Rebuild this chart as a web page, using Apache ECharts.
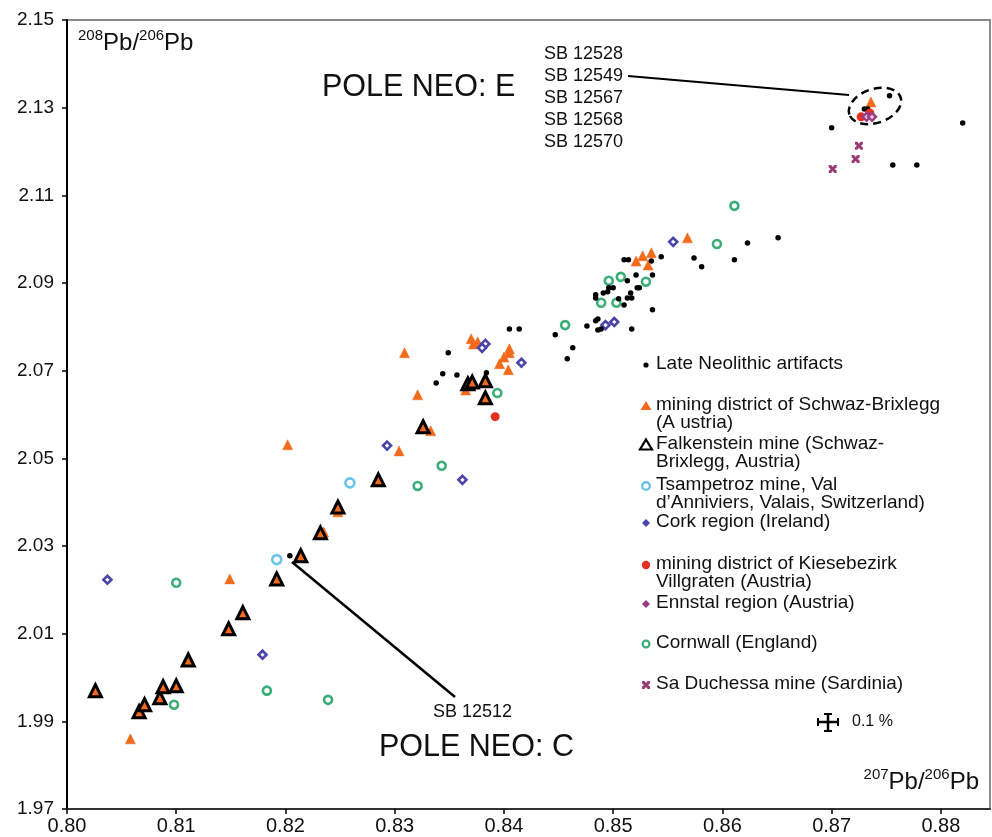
<!DOCTYPE html>
<html>
<head>
<meta charset="utf-8">
<script src="https://cdn.jsdelivr.net/npm/echarts@6/dist/echarts.min.js"></script>
<style>
html,body{margin:0;padding:0;background:#fff;}
#chart{width:992px;height:837px;}
</style>
</head>
<body>
<div id="chart"></div>
<script>
// ---- Data (x = 207Pb/206Pb, y = 208Pb/206Pb) ----
const xTicks = [0.80, 0.81, 0.82, 0.83, 0.84, 0.85, 0.86, 0.87, 0.88];
const yTicks = [1.97, 1.99, 2.01, 2.03, 2.05, 2.07, 2.09, 2.11, 2.13, 2.15];

const seriesNames = [
  "Late Neolithic artifacts",
  "mining district of Schwaz-Brixlegg\n(A ustria)",
  "Falkenstein mine (Schwaz-\nBrixlegg, Austria)",
  "Tsampetroz mine, Val\nd\u2019Anniviers, Valais, Switzerland)",
  "Cork region (Ireland)",
  "mining district of Kiesebezirk\nVillgraten (Austria)",
  "Ennstal region (Austria)",
  "Cornwall (England)",
  "Sa Duchessa mine (Sardinia)"
];

const neolithic = [
  [0.8204,2.0278],[0.8338,2.0672],[0.8344,2.0693],[0.8357,2.0690],[0.8349,2.0741],[0.8384,2.0695],
  [0.8405,2.0795],[0.8414,2.0795],[0.8447,2.0782],[0.8463,2.0752],[0.8458,2.0727],[0.8476,2.0802],
  [0.8484,2.0814],[0.8486,2.0818],[0.8486,2.0793],[0.8489,2.0795],[0.8517,2.0795],[0.8484,2.0873],
  [0.8484,2.0866],[0.8491,2.0877],[0.8495,2.0880],[0.8496,2.0889],[0.8500,2.0889],[0.8505,2.0864],
  [0.8510,2.0850],[0.8513,2.0866],[0.8516,2.0877],[0.8517,2.0866],[0.8522,2.0889],[0.8524,2.0889],
  [0.8536,2.0839],[0.8510,2.0953],[0.8514,2.0953],[0.8535,2.0950],[0.8521,2.0918],[0.8536,2.0918],
  [0.8513,2.0905],[0.8544,2.0960],[0.8574,2.0957],[0.8581,2.0937],[0.8611,2.0953],[0.8623,2.0991],
  [0.8651,2.1003],[0.8700,2.1254],[0.8730,2.1297],[0.8733,2.1297],[0.8753,2.1327],[0.8820,2.1265],
  [0.8756,2.1169],[0.8778,2.1169]
];
const schwaz = [
  [0.8058,1.9860],[0.8149,2.0225],[0.8202,2.0531],[0.8235,2.0332],[0.8248,2.0378],[0.8304,2.0517],
  [0.8309,2.0741],[0.8321,2.0645],[0.8333,2.0563],[0.8365,2.0656],[0.8370,2.0773],[0.8372,2.0761],
  [0.8376,2.0766],[0.8405,2.0750],[0.8405,2.0741],[0.8400,2.0731],[0.8396,2.0716],[0.8404,2.0702],
  [0.8521,2.0950],[0.8527,2.0962],[0.8535,2.0969],[0.8532,2.0941],[0.8568,2.1003],[0.8736,2.1313]
];
const falkenstein = [
  [0.8026,1.9970],[0.8066,1.9922],[0.8071,1.9938],[0.8085,1.9954],[0.8088,1.9979],[0.8100,1.9981],
  [0.8111,2.0040],[0.8148,2.0111],[0.8161,2.0148],[0.8192,2.0225],[0.8214,2.0278],[0.8232,2.0330],
  [0.8248,2.0389],[0.8285,2.0451],[0.8326,2.0572],[0.8367,2.0670],[0.8371,2.0674],[0.8383,2.0677],
  [0.8383,2.0638]
];
const tsampetroz = [[0.8192,2.0269],[0.8259,2.0444]];
const cork = [
  [0.8037,2.0223],[0.8179,2.0052],[0.8293,2.0529],[0.8362,2.0451],[0.8416,2.0718],[0.8383,2.0761],
  [0.8380,2.0752],[0.8493,2.0804],[0.8501,2.0811],[0.8555,2.0994]
];
const kiesebezirk = [[0.8392,2.0595],[0.8727,2.1279],[0.8735,2.1288]];
const ennstal = [[0.8732,2.1279],[0.8737,2.1279]];
const cornwall = [
  [0.8098,1.9938],[0.8100,2.0216],[0.8183,1.9970],[0.8239,1.9949],[0.8321,2.0437],[0.8343,2.0483],
  [0.8394,2.0649],[0.8456,2.0804],[0.8489,2.0855],[0.8503,2.0855],[0.8496,2.0905],[0.8507,2.0914],
  [0.8530,2.0903],[0.8595,2.0989],[0.8611,2.1076]
];
const saDuchessa = [[0.8725,2.1213],[0.8722,2.1183],[0.8701,2.1160]];

const clusterLabels = ["SB 12528", "SB 12549", "SB 12567", "SB 12568", "SB 12570"];

// ---- Styles ----
const FONT = "'Liberation Sans', Arial, Helvetica, sans-serif";
const C = {
  black: '#000000',
  orange: '#F26A1B',
  blueLt: '#6CC4EA',
  cork: '#4A45A8',
  red: '#E2321F',
  ennstal: '#9B3B80',
  green: '#3DAE78',
  sard: '#9B3B74'
};
const XPATH = 'path://M0,0 L3,0 L5,2.5 L7,0 L10,0 L10,3 L7.5,5 L10,7 L10,10 L7,10 L5,7.5 L3,10 L0,10 L0,7 L2.5,5 L0,3 Z';
const XPTS = [[0,0],[3,0],[5,2.5],[7,0],[10,0],[10,3],[7.5,5],[10,7],[10,10],[7,10],[5,7.5],[3,10],[0,10],[0,7],[2.5,5],[0,3]];

const chart = echarts.init(document.getElementById('chart'), null, {renderer: 'canvas'});

const series = [
  {name: seriesNames[1], data: schwaz, symbol: 'triangle', symbolSize: 10,
   itemStyle: {color: C.orange, borderColor: C.orange, borderWidth: 0.5}},
  {name: seriesNames[2], data: falkenstein, symbol: 'triangle', symbolSize: 12,
   itemStyle: {color: C.orange, borderColor: C.black, borderWidth: 3}},
  {name: seriesNames[3], data: tsampetroz, symbol: 'circle', symbolSize: 9,
   itemStyle: {color: '#fff', borderColor: C.blueLt, borderWidth: 2.6}},
  {name: seriesNames[4], data: cork, symbol: 'diamond', symbolSize: 8,
   itemStyle: {color: '#fff', borderColor: C.cork, borderWidth: 2.6}},
  {name: seriesNames[7], data: cornwall, symbol: 'circle', symbolSize: 8,
   itemStyle: {color: '#fff', borderColor: C.green, borderWidth: 2.6}},
  {name: seriesNames[0], data: neolithic, symbol: 'circle', symbolSize: 5.5,
   itemStyle: {color: C.black}},
  {name: seriesNames[5], data: kiesebezirk, symbol: 'circle', symbolSize: 9,
   itemStyle: {color: C.red}},
  {name: seriesNames[6], data: ennstal, symbol: 'diamond', symbolSize: 8,
   itemStyle: {color: '#E8C8E0', borderColor: C.ennstal, borderWidth: 2.4}},
  {name: seriesNames[8], data: saDuchessa, symbol: XPATH, symbolSize: 8,
   itemStyle: {color: C.sard}}
].map(s => {
  s.itemStyle.opacity = 1;
  return Object.assign({type: 'scatter', silent: true, emphasis: {disabled: true}}, s);
});

// ---- Legend drawn as graphic (icons aligned to first text line) ----
const legendX = 656, iconX = 646;
const legendRows = [
  {y: 364, icon: 'dot'},
  {y: 405, icon: 'tri'},
  {y: 444, icon: 'falk'},
  {y: 485, icon: 'tsam'},
  {y: 522, icon: 'cork'},
  {y: 564, icon: 'red'},
  {y: 603, icon: 'enn'},
  {y: 643, icon: 'corn'},
  {y: 684, icon: 'x'}
];
function iconEl(kind, cx, cy) {
  switch (kind) {
    case 'dot': return {type: 'circle', shape: {cx, cy, r: 2.6}, style: {fill: C.black}};
    case 'tri': return {type: 'polygon', shape: {points: [[cx, cy-5],[cx+5.5, cy+4],[cx-5.5, cy+4]]}, style: {fill: C.orange}};
    case 'falk': return {type: 'polygon', shape: {points: [[cx, cy-5.5],[cx+6, cy+4.5],[cx-6, cy+4.5]]}, style: {fill: '#fff', stroke: C.black, lineWidth: 2.2}};
    case 'tsam': return {type: 'circle', shape: {cx, cy, r: 3.8}, style: {fill: '#fff', stroke: C.blueLt, lineWidth: 2.4}};
    case 'cork': return {type: 'polygon', shape: {points: [[cx, cy-4],[cx+4, cy],[cx, cy+4],[cx-4, cy]]}, style: {fill: C.cork}};
    case 'red': return {type: 'circle', shape: {cx, cy, r: 4.2}, style: {fill: C.red}};
    case 'enn': return {type: 'polygon', shape: {points: [[cx, cy-4],[cx+4, cy],[cx, cy+4],[cx-4, cy]]}, style: {fill: C.ennstal}};
    case 'corn': return {type: 'circle', shape: {cx, cy, r: 3.4}, style: {fill: '#fff', stroke: C.green, lineWidth: 2.2}};
    case 'x': return {type: 'polygon', shape: {points: XPTS.map(p => [cx - 4 + p[0] * 0.8, cy - 4 + p[1] * 0.8])}, style: {fill: C.sard}};
  }
}
function txt(text, x, y, size, extra) {
  return {type: 'text', z: 100, x: x, y: y,
    style: Object.assign({text: text, fontSize: size, fontFamily: FONT, fill: '#111', verticalAlign: 'middle', align: 'left'}, extra || {})};
}
const graphics = [];
legendRows.forEach((r, i) => {
  graphics.push(Object.assign({z: 100}, iconEl(r.icon, iconX, r.y + 1)));
  graphics.push(txt(seriesNames[i], legendX, r.y - 9, 19, {verticalAlign: 'top', lineHeight: 18}));
});

// error bar symbol "0.1 %"
graphics.push(
  {type: 'line', z: 100, shape: {x1: 818, y1: 722, x2: 838, y2: 722}, style: {stroke: '#000', lineWidth: 2.5}},
  {type: 'line', z: 100, shape: {x1: 828, y1: 714, x2: 828, y2: 731}, style: {stroke: '#000', lineWidth: 2.5}},
  {type: 'line', z: 100, shape: {x1: 818, y1: 718, x2: 818, y2: 726}, style: {stroke: '#000', lineWidth: 2}},
  {type: 'line', z: 100, shape: {x1: 838, y1: 718, x2: 838, y2: 726}, style: {stroke: '#000', lineWidth: 2}},
  {type: 'line', z: 100, shape: {x1: 824, y1: 714, x2: 832, y2: 714}, style: {stroke: '#000', lineWidth: 2}},
  {type: 'line', z: 100, shape: {x1: 824, y1: 731, x2: 832, y2: 731}, style: {stroke: '#000', lineWidth: 2}},
  txt('0.1 %', 852, 722, 16)
);

// axis titles with superscripts
const supRich = {
  s: {fontSize: 15, fontFamily: FONT, verticalAlign: 'top', lineHeight: 27, fill: '#111'},
  m: {fontSize: 24, fontFamily: FONT, verticalAlign: 'bottom', lineHeight: 27, fill: '#111'}
};
graphics.push(txt('{s|208}{m|Pb/}{s|206}{m|Pb}', 78, 42, 24, {rich: supRich}));
graphics.push(txt('{s|207}{m|Pb/}{s|206}{m|Pb}', 979, 781, 24, {rich: supRich, align: 'right'}));

// pole labels
graphics.push(
  txt('POLE NEO: E', 322, 88, 30.5),
  txt('POLE NEO: C', 379, 748, 30.5)
);
// cluster sample labels
clusterLabels.forEach((t, i) => {
  graphics.push(txt(t, 544, 54 + i * 22, 18));
});
graphics.push(
  {type: 'line', z: 100, shape: {x1: 628, y1: 76, x2: 849, y2: 95}, style: {stroke: '#000', lineWidth: 2}},
  {type: 'ellipse', z: 100, x: 875, y: 106, rotation: 0.32, shape: {cx: 0, cy: 0, rx: 27, ry: 17},
   style: {fill: 'none', stroke: '#000', lineWidth: 2.5, lineDash: [8, 5]}},
  {type: 'line', z: 100, shape: {x1: 292, y1: 562, x2: 455, y2: 697}, style: {stroke: '#000', lineWidth: 2.5}},
  txt('SB 12512', 433, 712, 18)
);

const option = {
  animation: false,
  backgroundColor: '#fff',
  grid: {left: 67, right: 2, top: 20, bottom: 28, show: true, borderColor: '#8a8a8a', borderWidth: 2, containLabel: false},
  xAxis: {
    type: 'value', min: 0.80, max: 0.8845,
    axisLine: {show: true, onZero: false, lineStyle: {color: '#333', width: 2}},
    axisTick: {show: true, customValues: xTicks, length: 5, lineStyle: {color: '#000', width: 1.5}},
    axisLabel: {customValues: xTicks, formatter: v => v.toFixed(2), fontSize: 20, fontFamily: FONT, color: '#111', margin: 7},
    splitLine: {show: false}
  },
  yAxis: {
    type: 'value', min: 1.97, max: 2.15,
    axisLine: {show: true, onZero: false, lineStyle: {color: '#000', width: 2}},
    axisTick: {show: true, customValues: yTicks, length: 5, lineStyle: {color: '#000', width: 1.5}},
    axisLabel: {customValues: yTicks, formatter: v => v.toFixed(2), fontSize: 19, fontFamily: FONT, color: '#111', margin: 13},
    splitLine: {show: false}
  },
  series: series,
  graphic: graphics
};
chart.setOption(option);
</script>
</body>
</html>
